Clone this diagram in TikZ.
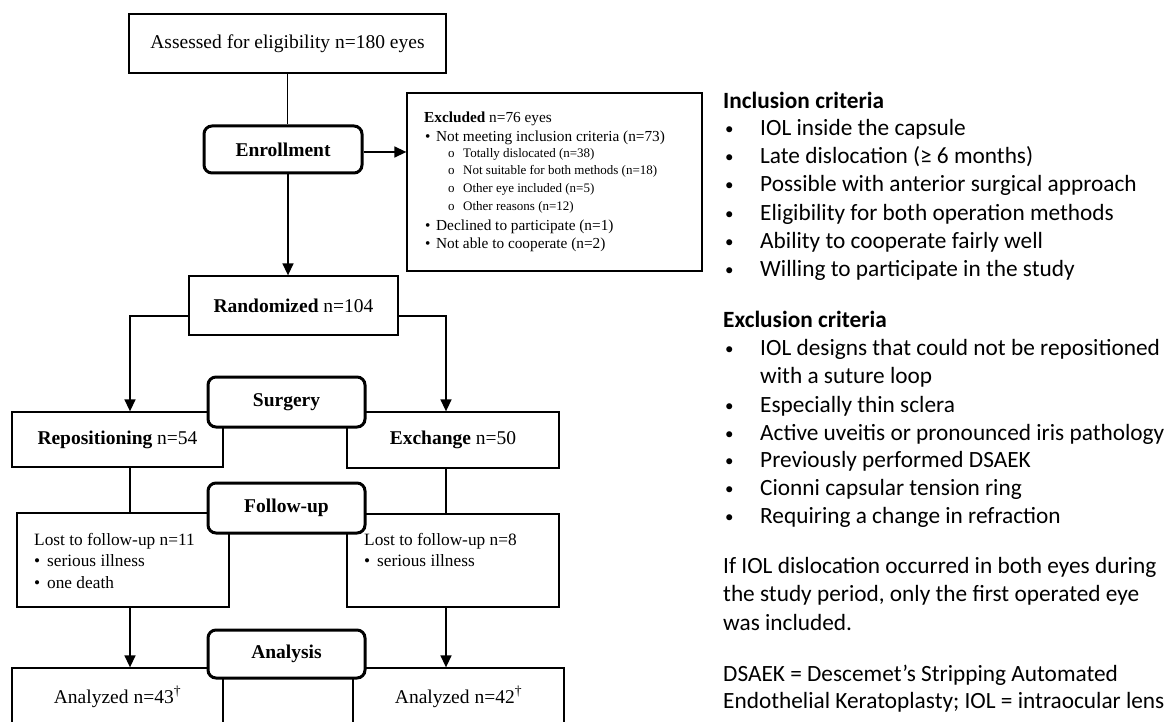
\documentclass[tikz,border=0pt]{standalone}
\usepackage{fontspec}
\setmainfont{Liberation Serif}
\newfontfamily\calfont{Carlito}
\usetikzlibrary{arrows.meta}
\newcommand{\cb}{\makebox[35pt][l]{\raisebox{1pt}{\fontsize{17}{17}\selectfont •}}}
\begin{document}
\begin{tikzpicture}[x=1pt,y=-1pt,
  box/.style={draw,line width=1.3pt,fill=white,inner sep=0pt,font=\fontsize{19.5}{23}\selectfont},
  phase/.style={draw,line width=3pt,rounded corners=8pt,fill=white,inner sep=0pt,font=\bfseries\fontsize{19.5}{23}\selectfont},
  ln/.style={line width=1.5pt},
  arr/.style={line width=1.5pt,-{Triangle[length=12pt,width=11pt]}},
  txt/.style={anchor=west,inner sep=0pt,text height=0.7em,text depth=0pt},
  exm/.style={txt,font=\fontsize{15.3}{18}\selectfont},
  exs/.style={txt,font=\fontsize{13}{16}\selectfont},
  lost/.style={txt,font=\fontsize{17.3}{20}\selectfont},
  crit/.style={txt,font=\calfont\fontsize{23.3}{28}\selectfont},
]
\useasboundingbox (0,0) rectangle (1175,722);
\clip (0,0) rectangle (1175,722);

% thin boxes
\node[box,minimum width=317,minimum height=59] (assess) at (287.5,43.5) {Assessed for eligibility n=180 eyes};
\node[box,minimum width=209,minimum height=59] (rand) at (293.5,305.5) {\textbf{Randomized} n=104};
\node[box,minimum width=295,minimum height=178] (excl) at (554.5,182) {};
\node[box,minimum width=211,minimum height=55] (repo) at (117.5,439.5) {\textbf{Repositioning} n=54};
\node[box,minimum width=212,minimum height=56] (exch) at (453,440) {\textbf{Exchange} n=50};
\node[box,minimum width=212,minimum height=94] (lostl) at (123,560) {};
\node[box,minimum width=212,minimum height=93] (lostr) at (453,560.5) {};
\node[box,minimum width=211,minimum height=58] (anal) at (117.5,697) {Analyzed n=43\textsuperscript{†}};
\node[box,minimum width=211,minimum height=58] (anar) at (458.5,697) {Analyzed n=42\textsuperscript{†}};

% phase boxes
\node[phase,minimum width=158,minimum height=47] (enr) at (283,149.5) {Enrollment};
\node[phase,minimum width=157,minimum height=50] (surg) at (286.5,402) {Surgery};
\node[phase,minimum width=157,minimum height=50] (foll) at (286.5,508) {Follow-up};
\node[phase,minimum width=157,minimum height=48] (anly) at (286.5,654) {Analysis};

% connectors
\draw[ln] (assess.south) -- (assess.south |- enr.north);
\draw[arr] ([xshift=5pt]enr.south) -- ([xshift=5pt]enr.south |- rand.north);
\draw[arr] ([yshift=-2.5pt]enr.east) -- ([yshift=-2.5pt]enr.east -| excl.west);
\draw[arr] ([yshift=-10.5pt]rand.west) -| ([xshift=12.5pt]repo.north);
\draw[arr] ([yshift=-10.5pt]rand.east) -| ([xshift=-7pt]exch.north);
\draw[ln] ([xshift=12.5pt]repo.south) -- ([xshift=12.5pt]repo.south |- lostl.north);
\draw[ln] ([xshift=-7pt]exch.south) -- ([xshift=-7pt]exch.south |- lostr.north);
\draw[arr] ([xshift=7pt]lostl.south) -- ([xshift=7pt]lostl.south |- anal.north);
\draw[arr] ([xshift=-7pt]lostr.south) -- ([xshift=-7pt]lostr.south |- anar.north);

% excluded text
\node[exm] (ex0) at (424,119) {\textbf{Excluded} n=76 eyes};
\node[exm] (ex1) at (425,138) {\makebox[11pt][l]{•}Not meeting inclusion criteria (n=73)};
\node[exs] (ex2) at (448,154) {\makebox[15pt][l]{o}Totally dislocated (n=38)};
\node[exs] (ex3) at (448,171) {\makebox[15pt][l]{o}Not suitable for both methods (n=18)};
\node[exs] (ex4) at (448,189) {\makebox[15pt][l]{o}Other eye included (n=5)};
\node[exs] (ex5) at (448,207) {\makebox[15pt][l]{o}Other reasons (n=12)};
\node[exm] (ex6) at (425,227) {\makebox[11pt][l]{•}Declined to participate (n=1)};
\node[exm] (ex7) at (425,245) {\makebox[11pt][l]{•}Not able to cooperate (n=2)};

% lost text
\node[lost] (ll0) at (34,542) {Lost to follow-up n=11};
\node[lost] (ll1) at (34,563) {\makebox[13pt][l]{•}serious illness};
\node[lost] (ll2) at (34,585) {\makebox[13pt][l]{•}one death};
\node[lost] (lr0) at (364,542) {Lost to follow-up n=8};
\node[lost] (lr1) at (364,563) {\makebox[13pt][l]{•}serious illness};

% criteria
\node[crit] (ih) at (723,105) {\textbf{Inclusion criteria}};
\node[crit] (i1) at (725,132) {\cb IOL inside the capsule};
\node[crit] (i2) at (725,160) {\cb Late dislocation (≥ 6 months)};
\node[crit] (i3) at (725,188) {\cb Possible with anterior surgical approach};
\node[crit] (i4) at (725,217) {\cb Eligibility for both operation methods};
\node[crit] (i5) at (725,245) {\cb Ability to cooperate fairly well};
\node[crit] (i6) at (725,273) {\cb Willing to participate in the study};
\node[crit] (eh) at (723,324) {\textbf{Exclusion criteria}};
\node[crit] (e1) at (725,352) {\cb IOL designs that could not be repositioned};
\node[crit] (e1b) at (760,380) {with a suture loop};
\node[crit] (e2) at (725,409) {\cb Especially thin sclera};
\node[crit] (e3) at (725,437) {\cb Active uveitis or pronounced iris pathology};
\node[crit] (e4) at (725,464) {\cb Previously performed DSAEK};
\node[crit] (e5) at (725,492) {\cb Cionni capsular tension ring};
\node[crit] (e6) at (725,520) {\cb Requiring a change in refraction};
\node[crit] (p1) at (723,570) {If IOL dislocation occurred in both eyes during};
\node[crit] (p2) at (723,598) {the study period, only the first operated eye};
\node[crit] (p3) at (723,627) {was included.};
\node[crit] (d1) at (723,678) {DSAEK = Descemet’s Stripping Automated};
\node[crit] (d2) at (723,705) {Endothelial Keratoplasty; IOL = intraocular lens};
\end{tikzpicture}
\end{document}
